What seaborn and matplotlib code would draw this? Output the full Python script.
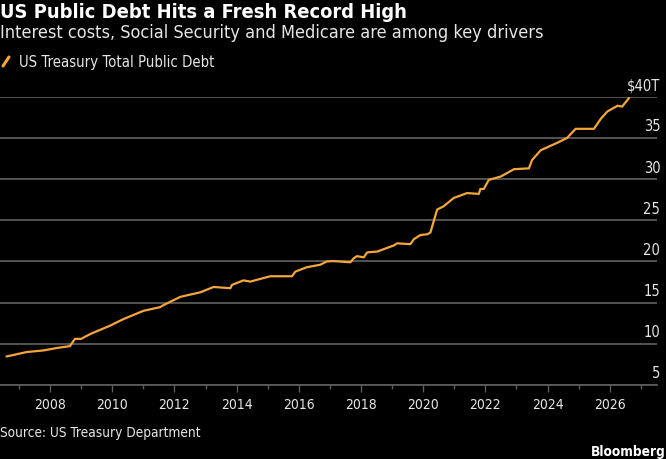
import matplotlib
matplotlib.use("Agg")
import matplotlib.pyplot as plt
import matplotlib.transforms as mtransforms
from matplotlib.lines import Line2D
import seaborn as sns
import pandas as pd

# ---- data ----
years = [2006.6, 2007.25, 2007.8, 2008.2, 2008.64, 2008.8, 2009.0, 2009.3, 2009.93,
         2010.36, 2011.0, 2011.54, 2011.65, 2012.19, 2012.83, 2013.26, 2013.8,
         2013.85, 2014.22, 2014.44, 2014.98, 2015.08, 2015.78, 2015.89, 2016.26,
         2016.69, 2016.9, 2017.12, 2017.66, 2017.77, 2017.87, 2018.09, 2018.2,
         2018.52, 2019.05, 2019.16, 2019.59, 2019.7, 2019.91, 2020.13, 2020.23,
         2020.45, 2020.66, 2020.98, 2021.41, 2021.79, 2021.84, 2021.95, 2022.11,
         2022.49, 2022.92, 2023.4, 2023.5, 2023.78, 2024.31, 2024.63, 2024.9,
         2025.49, 2025.71, 2025.92, 2026.25, 2026.4, 2026.62]
debt = [8.46, 9.0, 9.2, 9.48, 9.72, 10.6, 10.6, 11.2, 12.2,
        13.0, 14.0, 14.45, 14.7, 15.7, 16.25, 16.9, 16.75,
        17.15, 17.7, 17.55, 18.1, 18.2, 18.2, 18.77, 19.3,
        19.6, 20.0, 20.04, 19.9, 20.4, 20.64, 20.5, 21.1,
        21.2, 21.93, 22.2, 22.1, 22.7, 23.2, 23.3, 23.5,
        26.3, 26.7, 27.7, 28.3, 28.2, 28.8, 28.8, 29.9,
        30.3, 31.2, 31.3, 32.3, 33.5, 34.4, 35.0, 36.1,
        36.1, 37.3, 38.2, 38.9, 38.8, 39.85]
series_name = "US Treasury Total Public Debt"
y_ticks = [5, 10, 15, 20, 25, 30, 35, 40]
y_tick_labels = ["5", "10", "15", "20", "25", "30", "35", "$40T"]
x_major = [2008, 2010, 2012, 2014, 2016, 2018, 2020, 2022, 2024, 2026]
x_minor = [2007, 2009, 2011, 2013, 2015, 2017, 2019, 2021, 2023, 2025, 2027]

title = "US Public Debt Hits a Fresh Record High"
subtitle = "Interest costs, Social Security and Medicare are among key drivers"
source = "Source: US Treasury Department"
brand = "Bloomberg"

df = pd.DataFrame({"year": years, "debt": debt})

LINE = "#f5a53a"
GRID = "#5a5a5a"
TXT = "#e6e6e6"

sns.set_theme(style="dark")
plt.rcParams["font.family"] = ["DejaVu Sans"]
STRETCH = "condensed"

fig = plt.figure(figsize=(6.66, 4.6), dpi=100, facecolor="black")
ax = fig.add_axes([0.0, 0.1609, 0.9865, 0.7876 - 0.1609])
ax.set_facecolor("black")

sns.lineplot(data=df, x="year", y="debt", ax=ax, color=LINE, linewidth=1.6,
             clip_on=False, zorder=3)

ax.set_xlim(2006.39, 2027.52)
ax.set_ylim(5, 40)
for s in ["top", "right", "left"]:
    ax.spines[s].set_visible(False)
ax.spines["bottom"].set_color(GRID)
ax.spines["bottom"].set_linewidth(1.3)

ax.set_yticks(y_ticks)
ax.set_yticklabels([])
ax.tick_params(axis="y", length=0)
ax.grid(axis="y", color=GRID, linewidth=1.3)
ax.grid(axis="x", visible=False)
trans = mtransforms.blended_transform_factory(ax.transAxes, ax.transData)
for v, lab in zip(y_ticks, y_tick_labels):
    ax.text(1.005, v + 0.55, lab, transform=trans, ha="right", va="bottom",
            color=TXT, fontsize=10.5, fontstretch=STRETCH)

ax.set_xticks(x_major)
ax.set_xticklabels([str(x) for x in x_major], fontstretch=STRETCH)
ax.set_xticks(x_minor, minor=True)
ax.tick_params(axis="x", which="major", length=5, width=1, color=GRID,
               labelcolor=TXT, labelsize=10, pad=3.5, bottom=True)
ax.tick_params(axis="x", which="minor", length=3, width=1, color=GRID, bottom=True)
ax.set_xlabel("")
ax.set_ylabel("")

fig.text(0.0, 1 - 3 / 460, title, ha="left", va="top", color="white",
         fontsize=14.4, fontweight="bold", fontstretch=STRETCH)
fig.text(0.0, 1 - 24 / 460, subtitle, ha="left", va="top", color=TXT,
         fontsize=13, fontstretch=STRETCH)
fig.add_artist(Line2D([3 / 666, 9 / 666], [1 - 67 / 460, 1 - 58 / 460],
                      color=LINE, linewidth=2.2, transform=fig.transFigure))
fig.text(19 / 666, 1 - 62 / 460, series_name, ha="left", va="center",
         color=TXT, fontsize=10.75, fontstretch=STRETCH)
fig.text(0.0, 1 - 433 / 460, source, ha="left", va="center", color=TXT,
         fontsize=9.8, fontstretch=STRETCH)
fig.text(1.0, 1 - 452 / 460, brand, ha="right", va="center",
         color="white", fontsize=9.8, fontweight="bold", fontstretch=STRETCH)

fig.savefig("out.png", dpi=100, facecolor="black")
